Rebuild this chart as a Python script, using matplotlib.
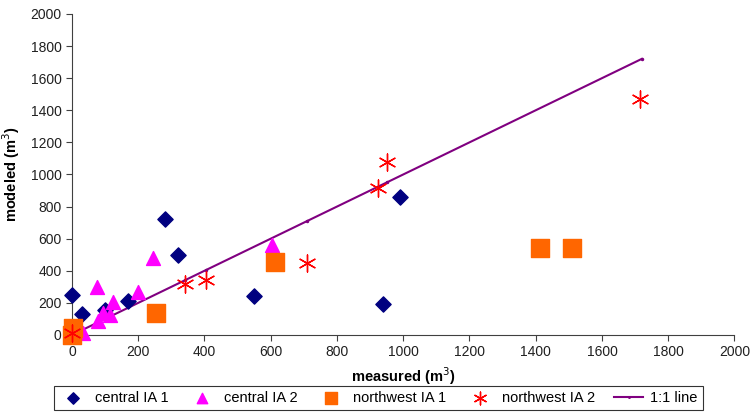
import matplotlib
matplotlib.use("Agg")
import matplotlib.pyplot as plt

plt.rcParams['font.family'] = ['Liberation Sans', 'DejaVu Sans']

# central IA 1
c1_x = [0, 30, 100, 170, 280, 320, 550, 940, 990, 0]
c1_y = [250, 130, 155, 210, 720, 500, 240, 195, 860, 5]
# central IA 2
c2_x = [75, 245, 200, 123, 93, 115, 78, 33, 603]
c2_y = [300, 480, 265, 205, 140, 125, 85, 12, 560]
# northwest IA 1
n1_x = [0, 3, 255, 612, 1412, 1508]
n1_y = [0, 45, 140, 455, 545, 545]
# northwest IA 2
n2_x = [0, 341, 404, 709, 923, 950, 1716]
n2_y = [10, 320, 340, 450, 915, 1075, 1470]
# 1:1 line
line_x = [0, 341, 404, 709, 923, 950, 1720]

fig = plt.figure(figsize=(7.52, 4.18), dpi=100)
ax = fig.add_axes([0.0957, 0.1986, 0.881, 0.768])

ax.plot(line_x, line_x, color='#800080', lw=1.5, marker='.', ms=3, label='1:1 line', zorder=2)
ax.scatter(c1_x, c1_y, marker='D', s=60, color='#000080', label='central IA 1', zorder=3, clip_on=False)
ax.scatter(c2_x, c2_y, marker='^', s=100, color='#FF00FF', label='central IA 2', zorder=3, clip_on=False)
ax.scatter(n1_x, n1_y, marker='s', s=150, color='#FF6600', label='northwest IA 1', zorder=3, clip_on=False)
ax.scatter(n2_x, n2_y, marker=(6, 2, 0), s=150, color='#FF0000', lw=1, label='northwest IA 2',
           zorder=4, clip_on=False)

ax.set_xlim(0, 2000)
ax.set_ylim(0, 2000)
ax.set_xticks(range(0, 2001, 200))
ax.set_yticks(range(0, 2001, 200))
ax.spines['top'].set_visible(False)
ax.spines['right'].set_visible(False)
for s in ('left', 'bottom'):
    ax.spines[s].set_color('#404040')
ax.tick_params(direction='out', length=4, labelsize=10, colors='#404040', labelcolor='#202020')
ax.set_xlabel('measured (m$^3$)', fontweight='bold', fontsize=10.5)
ax.set_ylabel('modeled (m$^3$)', fontweight='bold', fontsize=10.5, labelpad=6)

handles, labels = ax.get_legend_handles_labels()
order = [1, 2, 3, 4, 0]
leg = fig.legend([handles[i] for i in order], [labels[i] for i in order],
                 loc='center', bbox_to_anchor=(0.503, 0.048), ncol=5,
                 fancybox=False, edgecolor='black', fontsize=10.5, markerscale=0.75,
                 handlelength=2.0, columnspacing=1.3, borderpad=0.35, handletextpad=0.5)
leg.get_frame().set_linewidth(0.8)

fig.savefig('out.png', dpi=100)
